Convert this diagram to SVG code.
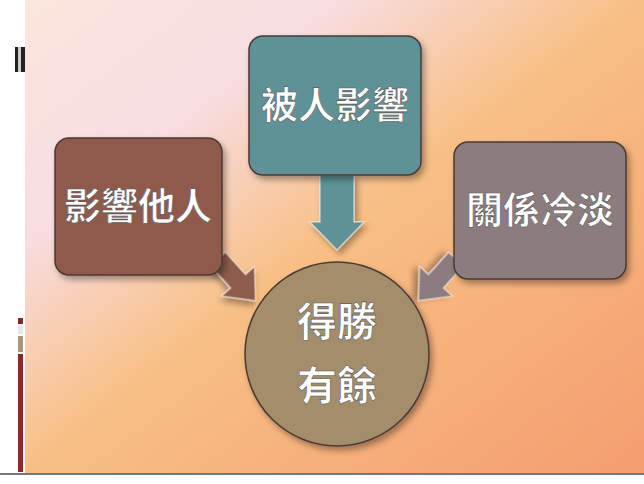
<svg xmlns="http://www.w3.org/2000/svg" width="644" height="484" viewBox="0 0 644 484">
<defs>
<linearGradient id="bg" x1="0" y1="0" x2="1" y2="1">
<stop offset="0" stop-color="#fbe6dc"/>
<stop offset="0.25" stop-color="#f8dde2"/>
<stop offset="0.5" stop-color="#f8bf84"/>
<stop offset="1" stop-color="#f59d70"/>
</linearGradient>
<filter id="sh" x="-20%" y="-20%" width="140%" height="140%"><feDropShadow dx="3" dy="4" stdDeviation="3" flood-color="#000" flood-opacity="0.35"/></filter>
<path id="dg" d="M0,-10 H30 V-22 L56,0 L30,22 V10 H0 Z"/>
<style>
.box{stroke:#4a3a34;stroke-width:1.5;filter:url(#sh)}
.arr{stroke:#ffffff;stroke-opacity:0.5;stroke-width:1.5;filter:url(#sh)}
.t{font-family:"Noto Sans CJK TC","Noto Sans CJK SC",sans-serif;font-weight:bold;font-size:37px;fill:#fff;text-anchor:middle;stroke:#555;stroke-width:0.6}
.c{font-size:40px}
</style>
</defs>
<rect width="644" height="484" fill="#fff"/>
<rect x="25" y="0" width="619" height="473" fill="url(#bg)"/>
<line x1="0" y1="474" x2="644" y2="474" stroke="#777" stroke-width="2"/>
<rect x="15" y="47" width="10" height="25" fill="#222"/>
<rect x="18" y="47" width="3" height="25" fill="#ccc"/>
<rect x="18" y="318" width="5" height="6" fill="#8b2a22"/>
<rect x="18" y="326" width="5" height="8" fill="#e8e4e8"/>
<rect x="18" y="336" width="5" height="16" fill="#a89a78"/>
<rect x="18" y="354" width="5" height="118" fill="#8b2a22"/>
<g id="connectors">
<use href="#dg" class="arr" fill="#8d5b4d" transform="translate(218,259) rotate(48)"/>
<path class="arr" fill="#5f9296" d="M320,175 H354 V222 H364 L337,250 L310,222 H320 Z"/>
<use href="#dg" class="arr" fill="#8c7b7e" transform="translate(456,259) rotate(132)"/>
</g>
<g id="n1"><rect class="box" x="55" y="138" width="167" height="137" rx="14" fill="#8f5a4c"/><text class="t" x="138" y="220">影響他人</text></g>
<g id="n2"><rect class="box" x="249" y="36" width="172" height="139" rx="14" fill="#5f9296"/><text class="t" x="335" y="119">被人影響</text></g>
<g id="n3"><rect class="box" x="454" y="142" width="172" height="137" rx="14" fill="#8c7c7e"/><text class="t" x="540" y="224">關係冷淡</text></g>
<g id="n4"><circle class="box" cx="337" cy="354" r="92" fill="#a48d6a"/><text class="t c" x="337" y="336">得勝</text><text class="t c" x="337" y="400">有餘</text></g>
</svg>
